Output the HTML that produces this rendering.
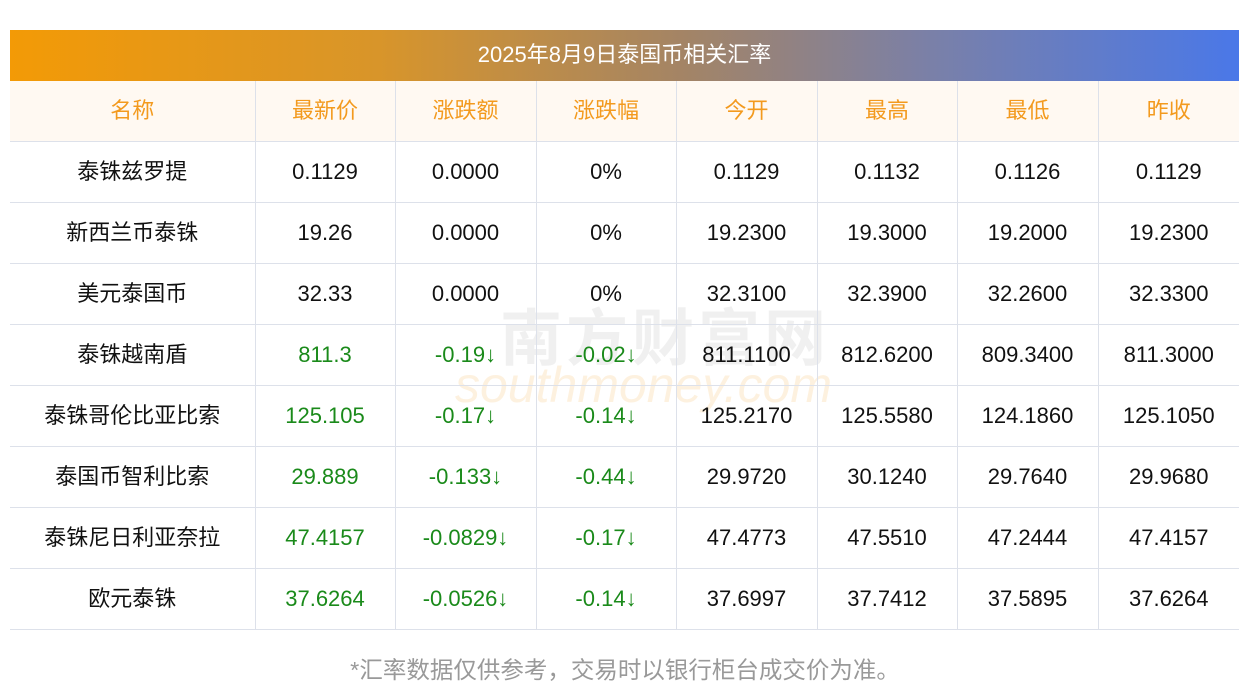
<!DOCTYPE html>
<html><head><meta charset="utf-8"><style>
body{margin:0;width:1250px;height:698px;background:#fff;font-family:"Liberation Sans","Noto Sans CJK SC",sans-serif;position:relative;overflow:hidden}
.title{position:absolute;left:10px;top:30px;width:1229px;height:51px;background:linear-gradient(90deg,#f39a06,#d8952a 30%,#a38466 55%,#7a80a8 75%,#4a78e8);color:#fff;font-size:22px;line-height:49px;text-align:center}
table{position:absolute;left:10px;top:81px;border-collapse:collapse;table-layout:fixed;width:1229px}
td{height:60px;border:1px solid #dde1ea;text-align:center;font-size:22px;color:#111;padding:0;line-height:22px}
tr.h td{background:#fff9f2;color:#f39a1e}
tr td:first-child{border-left:none}
tr td:last-child{border-right:none}
tr.h td{border-top:none}
.g{color:#1a8a1a}
.foot{position:absolute;left:0;width:1250px;top:651px;text-align:center;font-size:23.5px;color:#999}
.wm{position:absolute;left:500px;top:288px;font-size:62px;color:rgba(200,200,200,.28);font-weight:bold;letter-spacing:4px}
.wm2{position:absolute;left:455px;top:356px;font-size:50px;color:rgba(245,190,110,.22);font-style:italic}
</style></head><body>
<div class="title">2025年8月9日泰国币相关汇率</div>
<div class="wm">南方财富网</div>
<div class="wm2">southmoney.com</div>
<table>
<colgroup><col style="width:245px"><col style="width:140px"><col style="width:141px"><col style="width:140px"><col style="width:141px"><col style="width:140px"><col style="width:141px"><col style="width:141px"></colgroup>
<tr class="h"><td>名称</td><td>最新价</td><td>涨跌额</td><td>涨跌幅</td><td>今开</td><td>最高</td><td>最低</td><td>昨收</td></tr>
<tr><td>泰铢兹罗提</td><td>0.1129</td><td>0.0000</td><td>0%</td><td>0.1129</td><td>0.1132</td><td>0.1126</td><td>0.1129</td></tr>
<tr><td>新西兰币泰铢</td><td>19.26</td><td>0.0000</td><td>0%</td><td>19.2300</td><td>19.3000</td><td>19.2000</td><td>19.2300</td></tr>
<tr><td>美元泰国币</td><td>32.33</td><td>0.0000</td><td>0%</td><td>32.3100</td><td>32.3900</td><td>32.2600</td><td>32.3300</td></tr>
<tr><td>泰铢越南盾</td><td class="g">811.3</td><td class="g">-0.19↓</td><td class="g">-0.02↓</td><td>811.1100</td><td>812.6200</td><td>809.3400</td><td>811.3000</td></tr>
<tr><td>泰铢哥伦比亚比索</td><td class="g">125.105</td><td class="g">-0.17↓</td><td class="g">-0.14↓</td><td>125.2170</td><td>125.5580</td><td>124.1860</td><td>125.1050</td></tr>
<tr><td>泰国币智利比索</td><td class="g">29.889</td><td class="g">-0.133↓</td><td class="g">-0.44↓</td><td>29.9720</td><td>30.1240</td><td>29.7640</td><td>29.9680</td></tr>
<tr><td>泰铢尼日利亚奈拉</td><td class="g">47.4157</td><td class="g">-0.0829↓</td><td class="g">-0.17↓</td><td>47.4773</td><td>47.5510</td><td>47.2444</td><td>47.4157</td></tr>
<tr><td>欧元泰铢</td><td class="g">37.6264</td><td class="g">-0.0526↓</td><td class="g">-0.14↓</td><td>37.6997</td><td>37.7412</td><td>37.5895</td><td>37.6264</td></tr>
</table>
<div class="foot">*汇率数据仅供参考，交易时以银行柜台成交价为准。</div>
</body></html>
